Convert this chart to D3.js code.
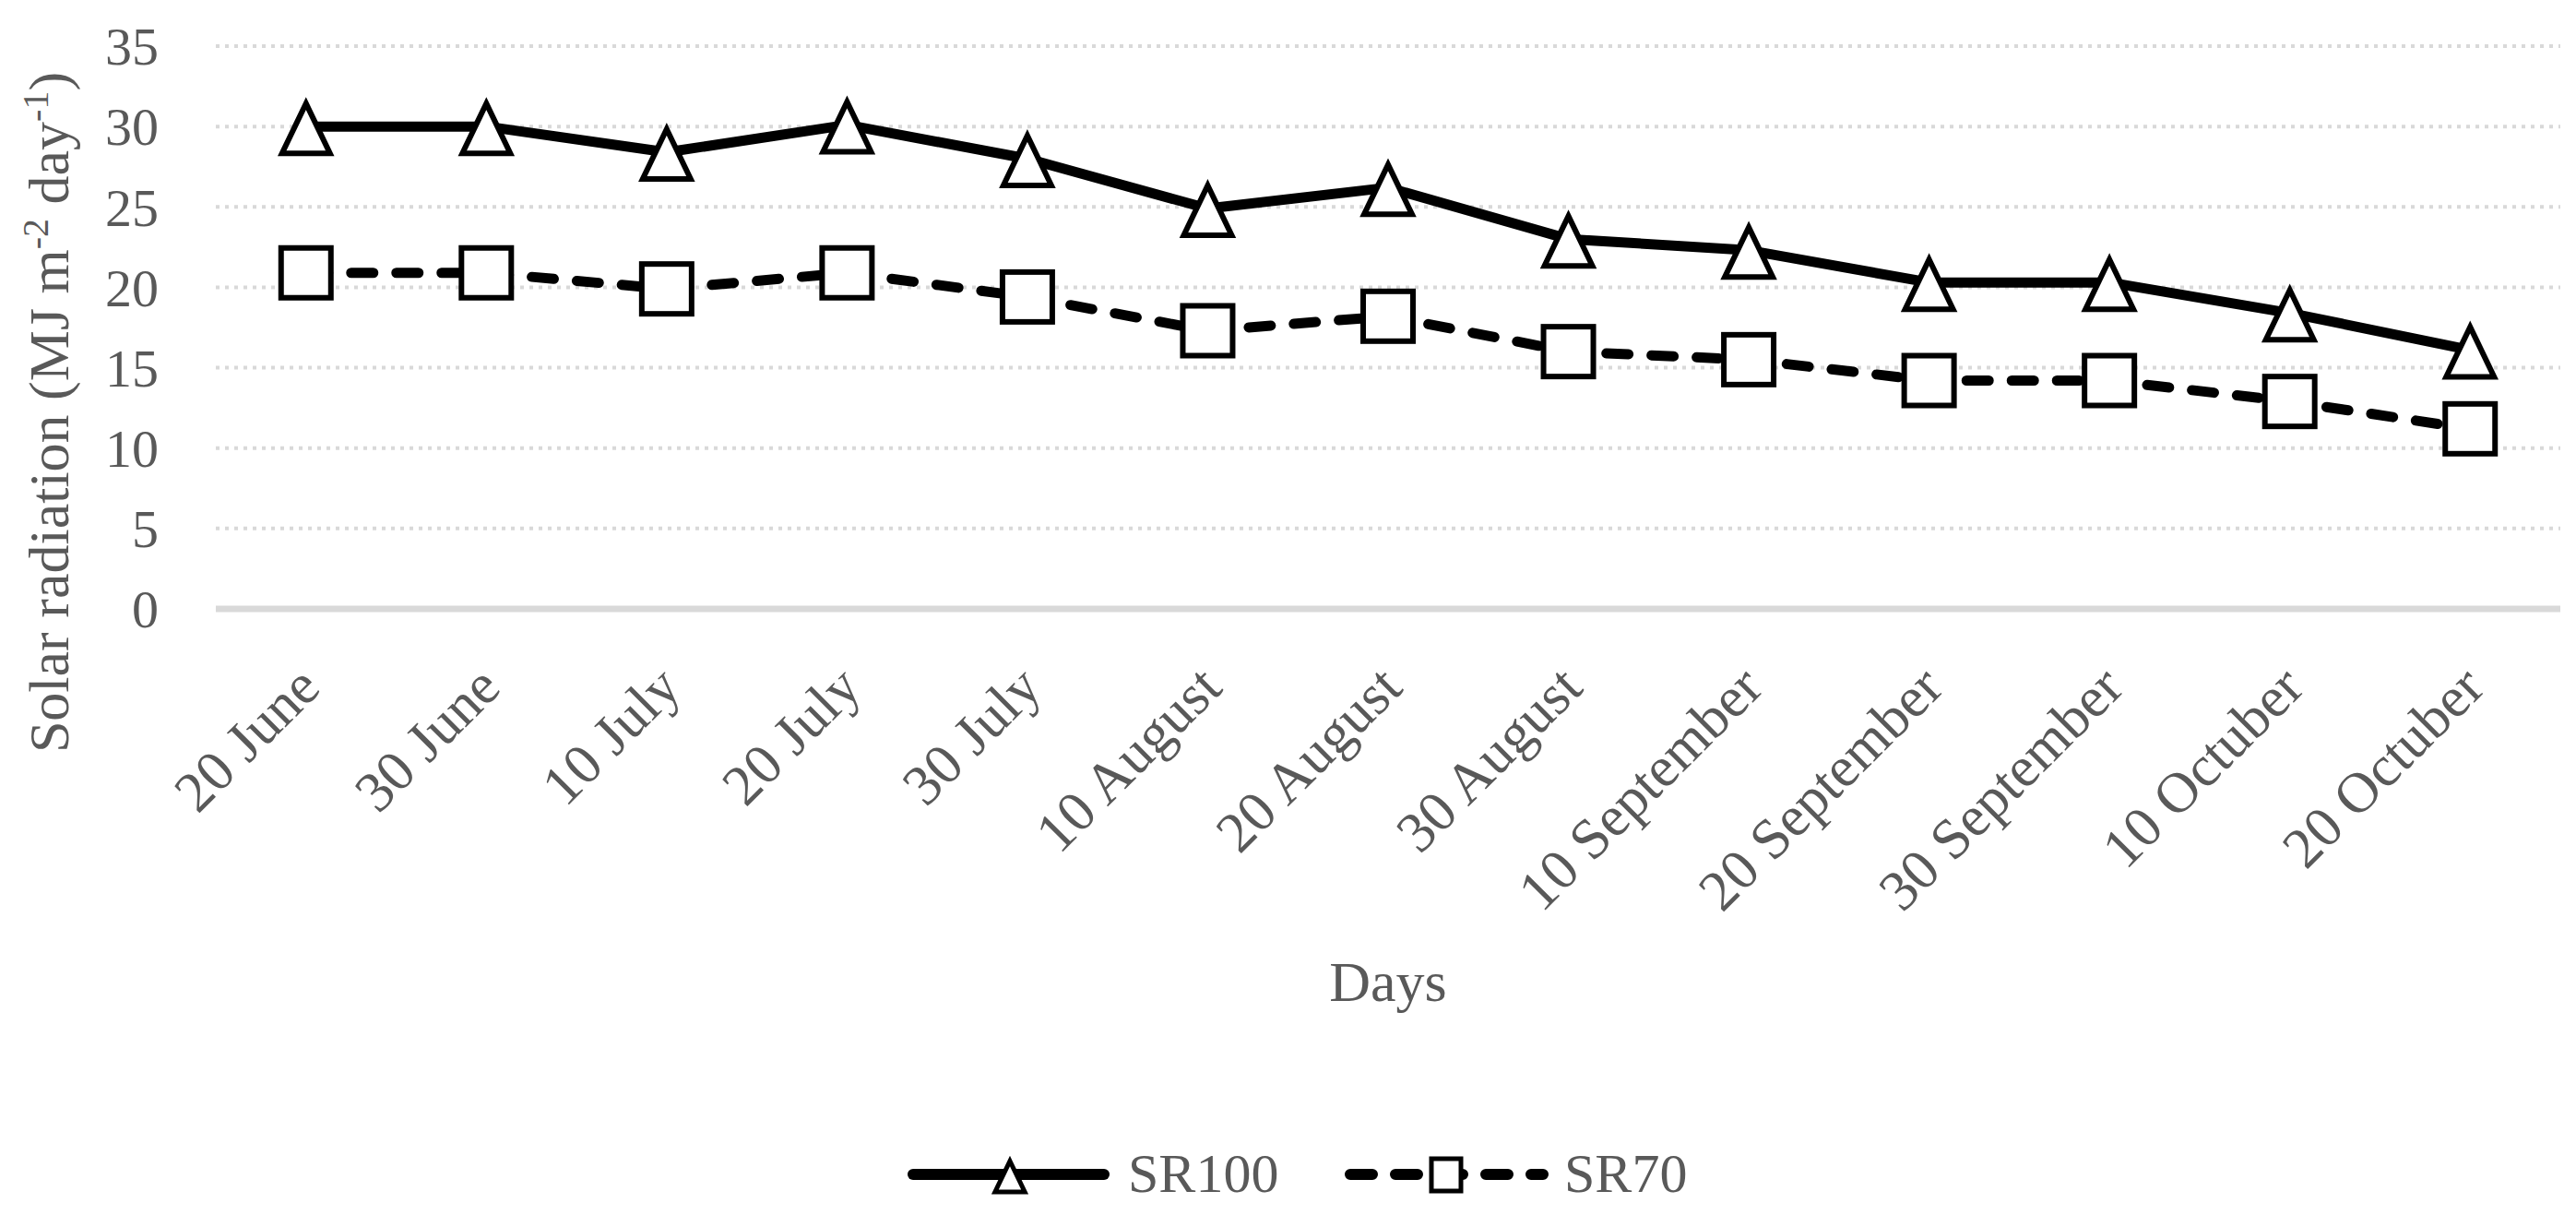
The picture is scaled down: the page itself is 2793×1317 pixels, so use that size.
<!DOCTYPE html>
<html>
<head>
<meta charset="utf-8">
<script src="https://cdn.jsdelivr.net/npm/d3@7"></script>
<style>
  body { margin: 0; background: #fff; }
  text { font-family: "Liberation Serif", serif; fill: #595959; }
</style>
</head>
<body>
<script>
// data
let days = ["20 June", "30 June", "10 July", "20 July", "30 July", "10 August", "20 August",
  "30 August", "10 September", "20 September", "30 September", "10 Octuber", "20 Octuber"]
let sr100 = [30.0, 30.0, 28.4, 30.1, 28.0, 24.9, 26.2, 23.0, 22.3, 20.3, 20.3, 18.4, 16.1]
let sr70 = [20.9, 20.9, 19.9, 20.9, 19.4, 17.3, 18.2, 16.0, 15.5, 14.2, 14.2, 12.9, 11.2]
let yTicks = [0, 5, 10, 15, 20, 25, 30, 35]
let seriesNames = ["SR100", "SR70"]

let width = 2793;
let height = 1317;
let plotLeft = 234, plotRight = 2776, plotTop = 50, plotBottom = 660;

let svg = d3.select("body").append("svg")
    .attr("width", width)
    .attr("height", height)

let x = d3.scaleBand().domain(days).range([plotLeft, plotRight])
let y = d3.scaleLinear().domain([0, 35]).range([plotBottom, plotTop])
let cx = d => x(d) + x.bandwidth() / 2

// dotted gridlines
svg.append("g")
    .selectAll("line")
    .data(yTicks.filter(t => t > 0))
    .enter()
    .append("line")
    .attr("x1", plotLeft).attr("x2", plotRight)
    .attr("y1", d => y(d)).attr("y2", d => y(d))
    .attr("stroke", "#d9d9d9")
    .attr("stroke-width", 4)
    .attr("stroke-dasharray", "4,6")

// y axis labels
let yAxis = d3.axisLeft(y).tickValues(yTicks).tickSize(0).tickPadding(0)
let gy = svg.append("g")
    .attr("transform", "translate(172,0)")
    .call(yAxis)
gy.select(".domain").remove()
gy.selectAll("text")
    .attr("font-family", "Liberation Serif")
    .style("font-size", "58px")
    .attr("fill", "#595959")
    .attr("dy", "0.34em")

// zero line
svg.append("line")
    .attr("x1", plotLeft).attr("x2", plotRight)
    .attr("y1", y(0)).attr("y2", y(0))
    .attr("stroke", "#d9d9d9")
    .attr("stroke-width", 7)

// x labels, rotated
svg.append("g")
    .selectAll("text")
    .data(days)
    .enter()
    .append("text")
    .attr("text-anchor", "end")
    .attr("transform", d => "translate(" + (cx(d) + 18) + "," + (plotBottom + 88) + ") rotate(-45)")
    .style("font-size", "62px")
    .text(d => d);

// lines
let line = d3.line().x((d, i) => cx(days[i])).y(d => y(d))

svg.append("path")
    .datum(sr100)
    .attr("d", line)
    .attr("fill", "none")
    .attr("stroke", "#000")
    .attr("stroke-width", 11)
    .attr("stroke-linejoin", "round")

svg.append("path")
    .datum(sr70)
    .attr("d", line)
    .attr("fill", "none")
    .attr("stroke", "#000")
    .attr("stroke-width", 11)
    .attr("stroke-linecap", "round")
    .attr("stroke-dasharray", "24,25")

// markers
let tri = (s) => "M0," + (-25 * s) + "L" + (26 * s) + "," + (29 * s) + "L" + (-26 * s) + "," + (29 * s) + "Z"

svg.append("g")
    .selectAll("path")
    .data(sr100)
    .enter()
    .append("path")
    .attr("d", tri(1))
    .attr("transform", (d, i) => "translate(" + cx(days[i]) + "," + y(d) + ")")
    .attr("fill", "#fff")
    .attr("stroke", "#000")
    .attr("stroke-width", 6)

svg.append("g")
    .selectAll("rect")
    .data(sr70)
    .enter()
    .append("rect")
    .attr("x", (d, i) => cx(days[i]) - 27)
    .attr("y", d => y(d) - 27)
    .attr("width", 54)
    .attr("height", 54)
    .attr("fill", "#fff")
    .attr("stroke", "#000")
    .attr("stroke-width", 6)

// axis titles
svg.append("text")
    .attr("text-anchor", "middle")
    .attr("transform", "translate(74,447) rotate(-90)")
    .style("font-size", "62px")
    .html('Solar radiation (MJ m<tspan dy="-22" style="font-size:40px">-2</tspan><tspan dy="22"> day</tspan><tspan dy="-22" style="font-size:40px">-1</tspan><tspan dy="22">)</tspan>')

svg.append("text")
    .attr("x", (plotLeft + plotRight) / 2)
    .attr("y", 1085)
    .attr("text-anchor", "middle")
    .style("font-size", "62px")
    .text("Days");

// legend
let lg = svg.append("g")
let ly = 1273

lg.append("line")
    .attr("x1", 990).attr("x2", 1197)
    .attr("y1", ly).attr("y2", ly)
    .attr("stroke", "#000").attr("stroke-width", 12)
    .attr("stroke-linecap", "round")
lg.append("path")
    .attr("d", tri(0.62))
    .attr("transform", "translate(1095," + (ly + 1) + ")")
    .attr("fill", "#fff").attr("stroke", "#000").attr("stroke-width", 5)
lg.append("text")
    .attr("x", 1223).attr("y", 1292)
    .style("font-size", "60px")
    .text(seriesNames[0])

lg.append("line")
    .attr("x1", 1464).attr("x2", 1673)
    .attr("y1", ly).attr("y2", ly)
    .attr("stroke", "#000").attr("stroke-width", 12)
    .attr("stroke-linecap", "round")
    .attr("stroke-dasharray", "24,25")
lg.append("rect")
    .attr("x", 1552).attr("y", ly - 17)
    .attr("width", 32).attr("height", 35)
    .attr("fill", "#fff").attr("stroke", "#000").attr("stroke-width", 5)
lg.append("text")
    .attr("x", 1696).attr("y", 1292)
    .style("font-size", "60px")
    .text(seriesNames[1])
</script>
</body>
</html>
